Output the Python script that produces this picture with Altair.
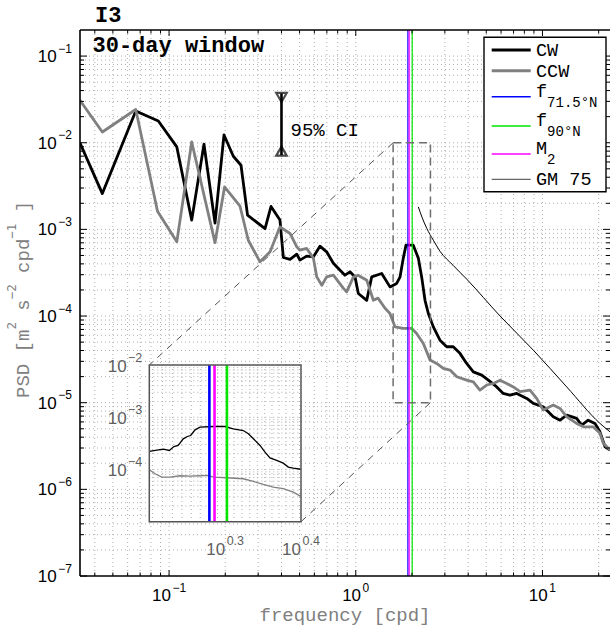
import altair as alt
import pandas as pd

# ------------------------------------------------------------------ data
cw_freq = [0.0333, 0.0439, 0.0663, 0.0876, 0.110, 0.1322, 0.1538, 0.1762, 0.1969, 0.2209,
           0.2428, 0.2632, 0.3266, 0.3516, 0.3926, 0.4093, 0.4446, 0.4831, 0.5023, 0.5458,
           0.5929, 0.6427, 0.6982, 0.7586, 0.8241, 0.8750, 0.9311, 0.9908, 1.032, 1.145,
           1.217, 1.377, 1.525, 1.656, 1.725, 1.797, 1.858, 2.032, 2.163, 2.254,
           2.349, 2.447, 2.603, 2.825, 3.069, 3.327, 3.614, 3.926, 4.262, 4.729,
           5.129, 5.689, 6.166, 6.699, 7.278, 8.241, 8.933, 10.09, 11.43, 12.42,
           13.49, 15.24, 16.22, 17.58, 19.10, 20.32, 21.63, 23.01]
cw_psd = [9.95e-3, 2.59e-3, 2.33e-2, 1.78e-2, 8.95e-3, 1.28e-3, 9.62e-3, 1.18e-3, 1.23e-2, 6.98e-3,
          5.50e-3, 1.46e-3, 1.02e-3, 1.84e-3, 1.28e-3, 4.74e-4, 4.50e-4, 5.18e-4, 4.42e-4, 4.91e-4,
          4.82e-4, 6.40e-4, 5.51e-4, 4.07e-4, 3.38e-4, 2.96e-4, 3.24e-4, 2.83e-4, 1.82e-4, 1.52e-4,
          2.83e-4, 3.10e-4, 2.17e-4, 2.38e-4, 2.81e-4, 4.66e-4, 6.58e-4, 6.58e-4, 4.66e-4, 2.83e-4,
          1.52e-4, 1.07e-4, 7.50e-5, 5.27e-5, 4.42e-5, 4.42e-5, 3.71e-5, 2.84e-5, 2.27e-5, 2.08e-5,
          1.82e-5, 1.52e-5, 1.28e-5, 1.22e-5, 1.28e-5, 1.12e-5, 9.82e-6, 8.97e-6, 6.87e-6, 6.29e-6,
          7.19e-6, 6.59e-6, 5.52e-6, 6.29e-6, 5.77e-6, 4.61e-6, 3.10e-6, 2.84e-6]

ccw_freq = [0.0333, 0.0439, 0.0663, 0.0867, 0.110, 0.1322, 0.1762, 0.1982, 0.2399, 0.2656,
            0.3070, 0.3476, 0.3926, 0.4446, 0.4831, 0.5023, 0.5458, 0.5929, 0.6180, 0.6577,
            0.6982, 0.7586, 0.8570, 0.8933, 0.9705, 1.028, 1.145, 1.242, 1.315, 1.435,
            1.525, 1.622, 1.797, 1.995, 2.118, 2.301, 2.500, 2.710, 2.944, 3.199,
            3.475, 3.926, 4.262, 4.624, 5.023, 5.458, 5.929, 6.430, 6.982, 7.586,
            8.570, 9.311, 10.09, 11.43, 12.42, 13.49, 15.24, 16.56, 18.71, 20.32,
            21.18, 23.01]
ccw_psd = [3.09e-2, 1.33e-2, 2.42e-2, 1.62e-3, 7.18e-4, 1.02e-2, 7.03e-4, 3.09e-3, 1.85e-3, 7.50e-4,
           4.22e-4, 5.51e-4, 1.07e-3, 8.97e-4, 6.28e-4, 5.75e-4, 6.03e-4, 4.66e-4, 2.83e-4, 2.27e-4,
           2.83e-4, 2.96e-4, 2.10e-4, 1.90e-4, 2.81e-4, 2.96e-4, 2.59e-4, 1.52e-4, 1.61e-4, 1.23e-4,
           1.07e-4, 7.50e-5, 7.19e-5, 7.19e-5, 6.29e-5, 4.83e-5, 3.10e-5, 2.84e-5, 2.49e-5, 2.38e-5,
           1.99e-5, 1.82e-5, 1.74e-5, 1.40e-5, 1.60e-5, 1.67e-5, 1.82e-5, 1.67e-5, 1.52e-5, 1.34e-5,
           1.40e-5, 1.12e-5, 8.22e-6, 9.38e-6, 8.59e-6, 6.87e-6, 5.77e-6, 5.27e-6, 5.27e-6, 4.43e-6,
           3.40e-6, 2.84e-6]

gm_freq = [2.163, 2.264, 2.399, 2.603, 2.825, 3.317, 3.926, 5.929, 8.933, 13.49, 20.32, 23.01]
gm_psd = [1.82e-3, 1.38e-3, 1.03e-3, 7.50e-4, 5.60e-4, 3.86e-4, 2.67e-4, 1.00e-4, 4.04e-5,
          1.52e-5, 5.77e-6, 4.61e-6]

inset_cw_freq = [1.585, 1.629, 1.654, 1.684, 1.708, 1.730, 1.757, 1.779, 1.797, 1.821, 1.849,
                 1.925, 1.994, 2.045, 2.108, 2.141, 2.174, 2.218, 2.252, 2.286, 2.333, 2.380,
                 2.417, 2.454, 2.510]
inset_cw_psd = [2.21e-4, 2.38e-4, 2.44e-4, 2.31e-4, 2.75e-4, 2.88e-4, 3.86e-4, 4.28e-4, 4.47e-4,
                5.74e-4, 6.44e-4, 6.64e-4, 6.64e-4, 6.00e-4, 5.57e-4, 4.82e-4, 3.86e-4, 2.88e-4,
                2.14e-4, 1.67e-4, 1.49e-4, 1.32e-4, 1.11e-4, 1.06e-4, 1.01e-4]
inset_ccw_freq = [1.585, 1.613, 1.646, 1.688, 1.740, 1.793, 1.849, 1.896, 1.925, 2.005, 2.108,
                  2.174, 2.240, 2.309, 2.380, 2.454, 2.510]
inset_ccw_psd = [9.87e-5, 8.28e-5, 7.13e-5, 7.13e-5, 7.58e-5, 7.45e-5, 7.58e-5, 7.68e-5, 7.13e-5,
                 6.94e-5, 6.64e-5, 5.90e-5, 5.16e-5, 4.59e-5, 4.28e-5, 3.68e-5, 3.05e-5]

ref_names = ["f 71.5N", "M2", "f 90N"]
ref_freqs = [1.902, 1.932, 2.006]
ref_colors = ["#0000ff", "#ff00ff", "#00e600"]

ci_freq = 0.40
ci_upper = 0.037
ci_lower = 0.0072
ci_label = "95% CI"

panel_title = "I3"
window_label = "30-day window"
x_title = "frequency [cpd]"
y_title_parts = [("PSD [m", False), ("2", True), (" s", False), ("\u22122", True),
                 (" cpd", False), ("\u22121", True), (" ]", False)]

x_tick_exps = ["\u22121", "0", "1"]
x_tick_vals = [0.1, 1.0, 10.0]
y_tick_exps = ["\u22127", "\u22126", "\u22125", "\u22124", "\u22123", "\u22122", "\u22121"]
y_tick_vals = [1e-7, 1e-6, 1e-5, 1e-4, 1e-3, 1e-2, 1e-1]
inset_y_exps = ["\u22124", "\u22123", "\u22122"]
inset_y_vals = [1e-4, 1e-3, 1e-2]
inset_x_exps = ["0.3", "0.4"]
inset_x_vals = [10 ** 0.3, 10 ** 0.4]

legend_labels = ["CW", "CCW", "f", "f", "M", "GM 75"]
legend_subs = ["", "", "71.5\u00b0N", "90\u00b0N", "2", ""]
legend_colors = ["black", "#808080", "#0000ff", "#00e600", "#ff00ff", "#666666"]
legend_widths = [3.0, 3.0, 1.6, 1.6, 1.6, 1.3]

# ------------------------------------------------------------------ layout / style
W, H = 530, 546
X_DOMAIN = [1 / 30, 23.0]
Y_DOMAIN = [1e-7, 0.2]
INSET_F = [10 ** 0.2, 10 ** 0.4]
INSET_P = [1e-5, 1e-2]
INSET_BOX_X = [69.3, 221.0]
INSET_BOX_Y = [491.7, 335.0]
MONO = "Liberation Mono"
SUPMONO = "DejaVu Sans Mono"
SANS = "Liberation Sans"
GRID = "#b0b0b0"
GRAY = "#808080"

xs = alt.Scale(type="log", domain=X_DOMAIN, nice=False)
ys = alt.Scale(type="log", domain=Y_DOMAIN, nice=False)
ixs = alt.Scale(type="log", domain=INSET_F, range=INSET_BOX_X, nice=False)
iys = alt.Scale(type="log", domain=INSET_P, range=INSET_BOX_Y, nice=False)


def mx(f):
    return alt.X(f"{f}:Q", scale=xs, axis=None)


def my(f):
    return alt.Y(f"{f}:Q", scale=ys, axis=None)


def ix(f):
    return alt.X(f"{f}:Q", scale=ixs, axis=None)


def iy(f):
    return alt.Y(f"{f}:Q", scale=iys, axis=None)


ONE = pd.DataFrame({"a": [0]})


def one(**cols):
    return pd.DataFrame({k: [v] for k, v in cols.items()})


def text_at(text, x, y, size, data=ONE, font=SANS, color="black", align="left",
            baseline="alphabetic", dx=0, dy=0, weight="normal", angle=0):
    return alt.Chart(data).mark_text(
        text=text, font=font, fontSize=size, color=color, align=align, baseline=baseline,
        dx=dx, dy=dy, fontWeight=weight, angle=angle).encode(x=x, y=y)


# tick / grid positions
x_minor = [k * 10 ** e for e in (-2, -1, 0, 1) for k in range(2, 10)
           if X_DOMAIN[0] < k * 10 ** e < X_DOMAIN[1]]
y_minor = [k * 10 ** e for e in range(-7, 0) for k in range(2, 10) if k * 10 ** e < Y_DOMAIN[1]]
x_grid = x_tick_vals + x_minor
y_grid = y_tick_vals[1:] + y_minor

main = []
# grid
main.append(alt.Chart(pd.DataFrame({"v": x_grid})).mark_rule(
    color=GRID, strokeWidth=1, strokeDash=[1, 3]).encode(x=mx("v")))
main.append(alt.Chart(pd.DataFrame({"v": y_grid})).mark_rule(
    color=GRID, strokeWidth=1, strokeDash=[1, 3]).encode(y=my("v")))

# spectra
main.append(alt.Chart(pd.DataFrame({"f": cw_freq, "p": cw_psd})).mark_line(
    color="black", strokeWidth=2.8, clip=True, strokeJoin="round").encode(x=mx("f"), y=my("p")))
main.append(alt.Chart(pd.DataFrame({"f": ccw_freq, "p": ccw_psd})).mark_line(
    color=GRAY, strokeWidth=2.8, clip=True, strokeJoin="round").encode(x=mx("f"), y=my("p")))
main.append(alt.Chart(pd.DataFrame({"f": gm_freq, "p": gm_psd})).mark_line(
    color="black", strokeWidth=1, clip=True, interpolate="monotone").encode(x=mx("f"), y=my("p")))

ref_color = alt.Color("name:N", scale=alt.Scale(domain=ref_names, range=ref_colors), legend=None)
main.append(alt.Chart(pd.DataFrame({"name": ref_names, "f": ref_freqs})).mark_rule(
    strokeWidth=1.2).encode(x=mx("f"), color=ref_color))

# dashed zoom rectangle and connectors
box = one(f0=INSET_F[0], f1=INSET_F[1], p0=INSET_P[0], p1=INSET_P[1])
main.append(alt.Chart(box).mark_rect(fillOpacity=0, stroke="#6e6e6e", strokeWidth=1.5,
                                     strokeDash=[8, 5]).encode(
    x=mx("f0"), x2="f1:Q", y=my("p0"), y2="p1:Q"))
main.append(alt.Chart(one(f=INSET_F[0], p=INSET_P[1])).mark_rule(
    color="#555555", strokeWidth=1, strokeDash=[7, 6]).encode(
    x=mx("f"), y=my("p"), x2=alt.value(INSET_BOX_X[0]), y2=alt.value(INSET_BOX_Y[1])))
main.append(alt.Chart(one(f=INSET_F[1], p=INSET_P[0])).mark_rule(
    color="#555555", strokeWidth=1, strokeDash=[7, 6]).encode(
    x=mx("f"), y=my("p"), x2=alt.value(INSET_BOX_X[1]), y2=alt.value(INSET_BOX_Y[0])))

# confidence interval bar
ci = one(f=ci_freq, hi=ci_upper, lo=ci_lower, mid=(ci_upper * ci_lower) ** 0.5)
main.append(alt.Chart(ci).mark_rule(color="black", strokeWidth=2.6).encode(
    x=mx("f"), y=my("hi"), y2="lo:Q"))
main.append(alt.Chart(ci).mark_point(shape="triangle-down", filled=False, color="black",
                                     strokeWidth=2.2, size=110, yOffset=4).encode(x=mx("f"), y=my("hi")))
main.append(alt.Chart(ci).mark_point(shape="triangle-up", filled=False, color="black",
                                     strokeWidth=2.2, size=110, yOffset=-4).encode(x=mx("f"), y=my("lo")))
main.append(text_at(ci_label, mx("f"), my("mid"), 19, data=ci, font=MONO,
                    baseline="middle", dx=9, dy=6))

# titles inside / above the panel
main.append(text_at(panel_title, alt.value(15), alt.value(-8), 22, font=MONO, weight="bold"))
main.append(text_at(window_label, alt.value(12.5), alt.value(21.5), 22, font=MONO, weight="bold"))

# ticks (inward, all four sides)
for vals, L in ((x_tick_vals, 6), (x_minor, 3.5)):
    d = pd.DataFrame({"v": vals})
    main.append(alt.Chart(d).mark_rule(color="black", strokeWidth=1).encode(
        x=mx("v"), y=alt.value(H), y2=alt.value(H - L)))
    main.append(alt.Chart(d).mark_rule(color="black", strokeWidth=1).encode(
        x=mx("v"), y=alt.value(0), y2=alt.value(L)))
for vals, L in ((y_tick_vals, 7), (y_minor, 4)):
    d = pd.DataFrame({"v": vals})
    main.append(alt.Chart(d).mark_rule(color="black", strokeWidth=1).encode(
        y=my("v"), x=alt.value(0), x2=alt.value(L)))
    main.append(alt.Chart(d).mark_rule(color="black", strokeWidth=1).encode(
        y=my("v"), x=alt.value(W), x2=alt.value(W - L)))

# spines (left, top, bottom)
for enc in (dict(x=alt.value(0), y=alt.value(0), y2=alt.value(H)),
            dict(x=alt.value(0), x2=alt.value(W), y=alt.value(0)),
            dict(x=alt.value(0), x2=alt.value(W), y=alt.value(H))):
    main.append(alt.Chart(ONE).mark_rule(color="black", strokeWidth=1.6).encode(**enc))

# tick labels: 10 with superscript exponent
for v, e in zip(x_tick_vals, x_tick_exps):
    d = pd.DataFrame({"v": [v]})
    shift = 1.9 if e.startswith("\u2212") else 5.3
    main.append(text_at("10", mx("v"), alt.value(H + 24.5), 17, data=d, align="right", dx=shift))
    main.append(text_at(e, mx("v"), alt.value(H + 15.5), 12, data=d, align="left", dx=shift + 1.5))
for v, e in zip(y_tick_vals, y_tick_exps):
    d = pd.DataFrame({"v": [v]})
    main.append(text_at("10", alt.value(-23.3), my("v"), 17, data=d, align="right", dy=6))
    main.append(text_at(e, alt.value(-21.8), my("v"), 12, data=d, align="left", dy=-3.5))

# axis titles
main.append(text_at(x_title, alt.value(W / 2), alt.value(H + 45), 19, font=MONO, color=GRAY,
                    align="center"))
off = 0.0
for part, sup in y_title_parts:
    size = 12.5 if sup else 19
    adv = 0.6 * size
    lead = len(part) - len(part.lstrip())
    main.append(text_at(part.strip(), alt.value(-51.5), alt.value(368), size,
                        font=SUPMONO if sup else MONO, color=GRAY,
                        angle=270, dx=off + lead * adv, dy=-13 if sup else 0))
    off += len(part) * adv

# legend
main.append(alt.Chart(ONE).mark_rect(fill="white", stroke="black", strokeWidth=1.4).encode(
    x=alt.value(404), x2=alt.value(526), y=alt.value(7.3), y2=alt.value(161.7)))
row_y = [20, 40.7, 66.7, 96, 124, 149.3]
for lab, sub, col, w, yy in zip(legend_labels, legend_subs, legend_colors, legend_widths, row_y):
    main.append(alt.Chart(ONE).mark_rule(color=col, strokeWidth=w).encode(
        x=alt.value(411.7), x2=alt.value(450.7), y=alt.value(yy)))
    if sub:
        main.append(text_at(lab, alt.value(456), alt.value(yy), 18.5, font=MONO))
        main.append(text_at(sub, alt.value(456 + 11.1 * len(lab)), alt.value(yy + 10), 14, font=MONO))
    else:
        main.append(text_at(lab, alt.value(456), alt.value(yy), 18.5, font=MONO, baseline="middle"))

main_layer = alt.layer(*main)

# ------------------------------------------------------------------ inset
ins = []
ibox = one(f0=INSET_F[0], f1=INSET_F[1], p0=INSET_P[0], p1=INSET_P[1])
ins.append(alt.Chart(ibox).mark_rect(fill="white").encode(
    x=ix("f0"), x2="f1:Q", y=iy("p0"), y2="p1:Q"))
inset_x_grid = [round(1.6 + 0.05 * i, 2) for i in range(19)]
inset_y_grid = [k * 10 ** e for e in (-5, -4, -3) for k in range(1, 10)][1:]
ins.append(alt.Chart(pd.DataFrame({"v": inset_x_grid})).mark_rule(
    color=GRID, strokeWidth=1, strokeDash=[1, 3]).encode(
    x=ix("v"), y=alt.value(INSET_BOX_Y[1]), y2=alt.value(INSET_BOX_Y[0])))
ins.append(alt.Chart(pd.DataFrame({"v": inset_y_grid})).mark_rule(
    color=GRID, strokeWidth=1, strokeDash=[1, 3]).encode(
    y=iy("v"), x=alt.value(INSET_BOX_X[0]), x2=alt.value(INSET_BOX_X[1])))
ins.append(alt.Chart(pd.DataFrame({"f": inset_cw_freq, "p": inset_cw_psd})).mark_line(
    color="black", strokeWidth=1.3).encode(x=ix("f"), y=iy("p")))
ins.append(alt.Chart(pd.DataFrame({"f": inset_ccw_freq, "p": inset_ccw_psd})).mark_line(
    color=GRAY, strokeWidth=1.3).encode(x=ix("f"), y=iy("p")))
ins.append(alt.Chart(pd.DataFrame({"name": ref_names, "f": ref_freqs})).mark_rule(
    strokeWidth=2.6).encode(x=ix("f"), y=alt.value(INSET_BOX_Y[1]), y2=alt.value(INSET_BOX_Y[0]),
                            color=ref_color))
ins.append(alt.Chart(ibox).mark_rect(fillOpacity=0, stroke="#555555", strokeWidth=1.5).encode(
    x=ix("f0"), x2="f1:Q", y=iy("p0"), y2="p1:Q"))
for v, e in zip(inset_y_vals, inset_y_exps):
    d = pd.DataFrame({"v": [v]})
    ins.append(text_at("10", alt.value(INSET_BOX_X[0] - 22.6), iy("v"), 17, data=d,
                       color="#606060", align="right", dy=7))
    ins.append(text_at(e, alt.value(INSET_BOX_X[0] - 21.3), iy("v"), 12.5, data=d,
                       color="#606060", align="left", dy=-3.5))
for v, e in zip(inset_x_vals, inset_x_exps):
    d = pd.DataFrame({"v": [v]})
    ins.append(text_at("10", ix("v"), alt.value(INSET_BOX_Y[0] + 33), 17, data=d,
                       color="#606060", align="right", dx=0))
    ins.append(text_at(e, ix("v"), alt.value(INSET_BOX_Y[0] + 23), 12.5, data=d,
                       color="#606060", align="left", dx=1.5))
inset_layer = alt.layer(*ins)

chart = alt.layer(main_layer, inset_layer).resolve_scale(
    x="independent", y="independent", color="shared"
).properties(
    width=W, height=H,
    padding={"left": 80, "top": 30, "right": 0, "bottom": 51},
    autosize=alt.AutoSizeParams(type="none"),
    background="white",
).configure_view(stroke=None)

chart.save("out.html", embed_options={"renderer": "svg", "actions": False})
